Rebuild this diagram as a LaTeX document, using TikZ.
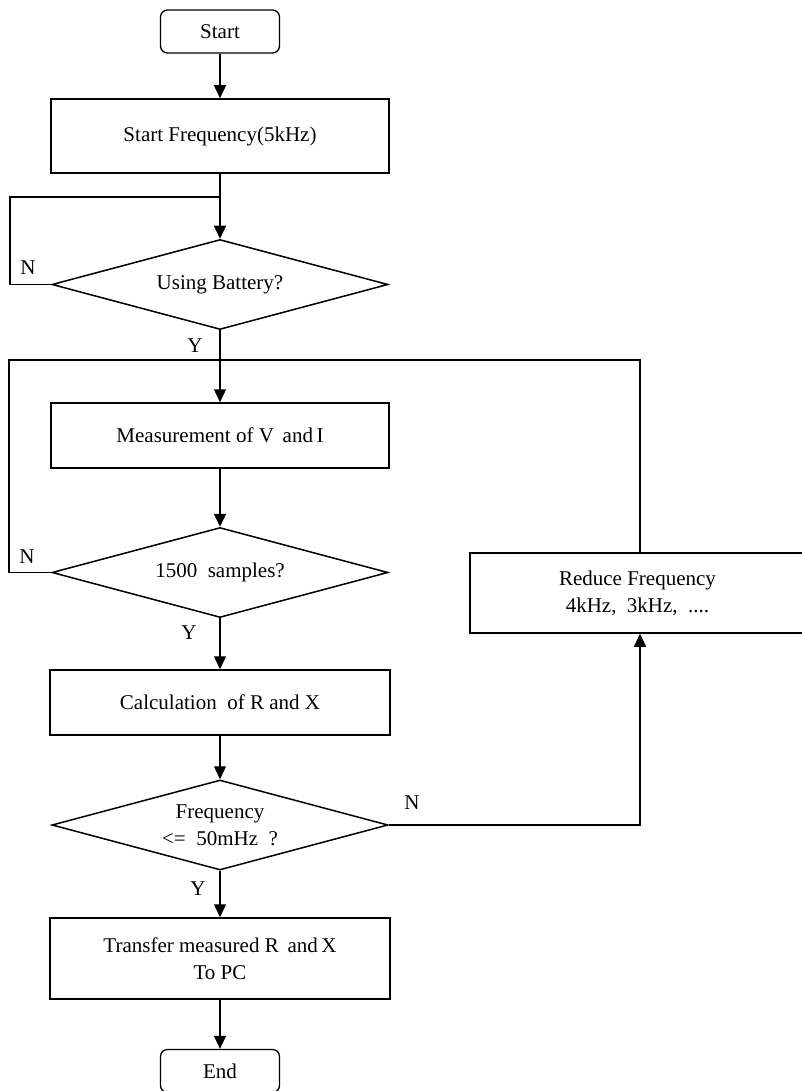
\documentclass[tikz,border=0pt]{standalone}
\usepackage{fontspec}
\setmainfont{Liberation Serif}
\usetikzlibrary{shapes.geometric,arrows.meta}
\begin{document}
\begin{tikzpicture}[x=1pt,y=-1pt,
  every node/.style={font=\fontsize{21}{27}\selectfont},
  box/.style={draw,line width=1.5pt,minimum width=#1,inner sep=0pt,align=center},
  term/.style={draw,line width=1.3pt,rounded corners=7pt,minimum width=119pt,minimum height=43pt,inner sep=0pt},
  dec/.style={draw,diamond,line width=1.5pt,shape aspect=3.7,inner sep=0pt,minimum width=336pt,minimum height=90pt,align=center},
  conn/.style={line width=1.4pt,-{Triangle[length=13pt,width=12pt]}},
  line/.style={line width=1.4pt},
  lbl/.style={inner sep=0pt}]
\useasboundingbox (0,0) rectangle (802,1091);
\node[term] (start) at (220,31.5) {Start};
\node[box=338pt,minimum height=74pt] (sf) at (220,136) {Start Frequency(5kHz)};
\node[dec] (d1) at (220,284.5) {Using Battery?};
\node[box=338pt,minimum height=65pt] (meas) at (220,435.5) {Measurement of V\, and\,I};
\node[dec] (d2) at (220,572.5) {1500\ \ samples?};
\node[box=335pt,minimum height=80pt] (red) at (637.5,593) {Reduce Frequency\\4kHz,\ \ 3kHz,\ \ ....};
\node[box=340pt,minimum height=65pt] (calc) at (220,702.5) {Calculation\ \ of R and X};
\node[dec] (d3) at (220,825) {Frequency\\<=\ \ 50mHz\ \ ?};
\node[box=340pt,minimum height=81pt] (tr) at (220,958.5) {Transfer measured R\, and\,X\\To PC};
\node[term] (end) at (220,1071) {End};
\coordinate (j1) at (220,197);
\coordinate (j2) at (220,360);
\coordinate (r3) at (640,823.5);
% main flow
\draw[conn] (start) -- (sf);
\draw[conn] (sf) -- (d1);
\draw[conn] (d1) -- (meas);
\draw[conn] (meas) -- (d2);
\draw[conn] (d2) -- (calc);
\draw[conn] (calc) -- (d3);
\draw[conn] (d3) -- (tr);
\draw[conn] (tr) -- (end);
% loops
\draw[line] (d1.west) -- (10,284.5) |- (j1);
\draw[line] (d2.west) -- (9,572.5) |- (j2);
\draw[line] (red.north -| r3) |- (j2);
\draw[conn] (d3.east) -- (d3.east -| r3) -- (red.south -| r3);
% labels
\node[lbl] (n1) at (28,268) {N};
\node[lbl] (y1) at (195,346) {Y};
\node[lbl] (n2) at (27,557) {N};
\node[lbl] (y2) at (189,633) {Y};
\node[lbl] (n3) at (412,803) {N};
\node[lbl] (y3) at (198,889) {Y};
\end{tikzpicture}
\end{document}
